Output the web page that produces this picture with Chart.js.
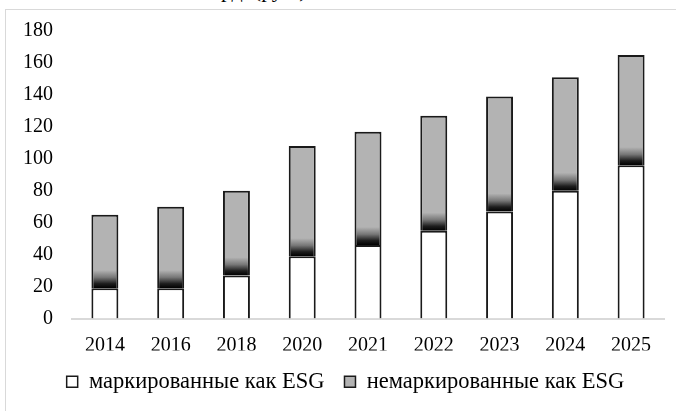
<!DOCTYPE html>
<html>
<head>
<meta charset="utf-8">
<script src="https://cdn.jsdelivr.net/npm/chart.js@4"></script>
<style>
  html, body { margin: 0; padding: 0; background: #fff; overflow: hidden; width: 676px; height: 411px; }
  #title { position: absolute; left: 196px; top: -22px; font: 22px "Liberation Serif", serif; color: #000; white-space: nowrap; line-height: 24px; }
  #frame { position: absolute; left: 5px; top: 9px; width: 700px; height: 440px; border: 1px solid #d9d9d9; box-sizing: border-box; }
  #wrap { position: absolute; left: 0; top: 0; width: 676px; height: 403px; }
</style>
</head>
<body>
<div id="title">млрд. (руб.)</div>
<div id="frame"></div>
<div id="wrap"><canvas id="c"></canvas></div>
<script>
const categories = ['2014', '2016', '2018', '2020', '2021', '2022', '2023', '2024', '2025'];
const esgValues = [19, 19, 27, 39, 46, 55, 67, 80, 96];
const nonEsgValues = [46, 51, 53, 69, 71, 72, 72, 71, 69];
const seriesNames = ['маркированные как ESG', 'немаркированные как ESG'];
const yTicks = [0, 20, 40, 60, 80, 100, 120, 140, 160, 180];

const GRAY = '#b3b3b3';
const FONT = '"Liberation Serif", "Times New Roman", serif';

function grayFill(ctx) {
  if (ctx.type !== 'data') return GRAY;
  const chart = ctx.chart;
  const y = chart.scales && chart.scales.y;
  if (!chart.chartArea || !y) return GRAY;
  const base = y.getPixelForValue(esgValues[ctx.dataIndex]);
  const g = chart.ctx.createLinearGradient(0, base, 0, base - 18);
  g.addColorStop(0, '#000000');
  g.addColorStop(0.25, '#1e1e1e');
  g.addColorStop(0.6, '#777777');
  g.addColorStop(1, GRAY);
  return g;
}

const legendShift = {
  id: 'legendShift',
  afterLayout(chart) {
    if (chart.legend) { chart.legend.left += 11; chart.legend.right += 11; }
  }
};

new Chart(document.getElementById('c'), {
  type: 'bar',
  data: {
    labels: categories,
    datasets: [
      { label: seriesNames[0], data: esgValues, backgroundColor: '#ffffff', borderColor: '#1a1a1a', borderWidth: 2 },
      { label: seriesNames[1], data: nonEsgValues, backgroundColor: grayFill, borderColor: '#1a1a1a', borderWidth: 2 }
    ]
  },
  plugins: [legendShift],
  options: {
    responsive: true,
    maintainAspectRatio: false,
    animation: false,
    devicePixelRatio: 1,
    layout: { padding: { left: 5, right: 12, top: 31, bottom: 0 } },
    datasets: { bar: { barPercentage: 0.41, categoryPercentage: 1 } },
    plugins: {
      tooltip: { enabled: false },
      legend: {
        position: 'bottom',
        labels: {
          font: { family: FONT, size: 22.5 },
          color: '#000',
          boxWidth: 11,
          boxHeight: 11,
          padding: 20,
          generateLabels: (chart) => Chart.defaults.plugins.legend.labels.generateLabels(chart).map((l, i) => {
            l.fillStyle = i === 0 ? '#ffffff' : GRAY;
            l.strokeStyle = '#1a1a1a';
            l.lineWidth = 1.5;
            return l;
          })
        }
      }
    },
    scales: {
      x: {
        stacked: true,
        grid: { display: false, drawTicks: false },
        border: { display: true, color: '#d9d9d9', width: 2 },
        ticks: { font: { family: FONT, size: 20 }, color: '#000', padding: 15, maxRotation: 0 },
        afterFit: (s) => { s.height = 32; }
      },
      y: {
        stacked: true,
        min: 0,
        max: 180,
        afterBuildTicks: (s) => { s.ticks = yTicks.map(v => ({ value: v })); },
        grid: { display: false, drawTicks: false },
        border: { display: false },
        ticks: { font: { family: FONT, size: 20 }, color: '#000', padding: 19 },
        afterFit: (s) => { s.width = 67; }
      }
    }
  }
});
</script>
</body>
</html>
